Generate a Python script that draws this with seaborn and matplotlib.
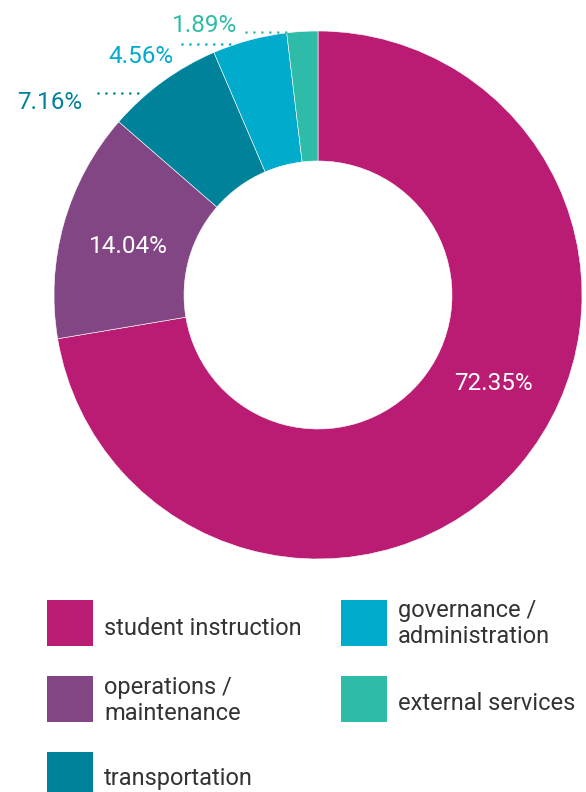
import matplotlib
matplotlib.use("Agg")
import matplotlib.pyplot as plt
from matplotlib.patches import Rectangle
import seaborn as sns

sns.set_theme(style="white")
plt.rcParams["font.family"] = ["Roboto", "DejaVu Sans"]

# Spending shares by category
categories = ["student instruction", "operations /\nmaintenance", "transportation",
              "governance /\nadministration", "external services"]
shares = [72.35, 14.04, 7.16, 4.56, 1.89]
labels = ["72.35%", "14.04%", "7.16%", "4.56%", "1.89%"]
colors = sns.color_palette(["#BA1C74", "#824685", "#00829A", "#00ABCB", "#2EBCA8"])

W, H = 586, 792
fig = plt.figure(figsize=(W / 100, H / 100), dpi=100)
ax = fig.add_axes([0, 0, 1, 1])

cx, cy, R = 318, H - 295, 264
hole = 134
ax.pie(shares, colors=colors, startangle=90, counterclock=False,
       center=(cx, cy), radius=R,
       wedgeprops=dict(width=R - hole, edgecolor="white", linewidth=0.4))
ax.set_xlim(0, W)
ax.set_ylim(0, H)
ax.set_aspect("equal")
ax.axis("off")

txt = dict(fontsize=17.5, fontweight="normal", va="baseline", ha="center")
# labels inside the large wedges
ax.text(493, H - 390, labels[0], color="white", **txt)
ax.text(128, H - 253, labels[1], color="white", **txt)

# outside labels with dotted leaders for the narrow wedges
outside = [(2, 50, 109, (98, 145), 93), (3, 141, 63, (182, 232), 44), (4, 205, 32, (246, 293), 31.5)]
for idx, tx, ty, (x0, x1), ly in outside:
    ax.text(tx, H - ty, labels[idx], color=colors[idx], **txt)
    ax.plot([x0, x1], [H - ly, H - ly], color=colors[idx], lw=1.9,
            linestyle=(0, (0.01, 3.0)), dash_capstyle="round")

# legend: swatches and names in two columns
swatch_pos = [(47, 600), (47, 676), (47, 752), (341, 600), (341, 676)]
first_baseline = [635, 694, 785, 617, 710]
line_gap = 26
for (lx, ly), base, name, col in zip(swatch_pos, first_baseline, categories, colors):
    ax.add_patch(Rectangle((lx, H - ly - 46), 46, 46, color=col, lw=0))
    for k, line in enumerate(name.split("\n")):
        ax.text(lx + 57, H - (base + k * line_gap), line, color="#333333",
                fontsize=17, fontweight="normal", va="baseline", ha="left")

fig.savefig("out.png", dpi=100)
